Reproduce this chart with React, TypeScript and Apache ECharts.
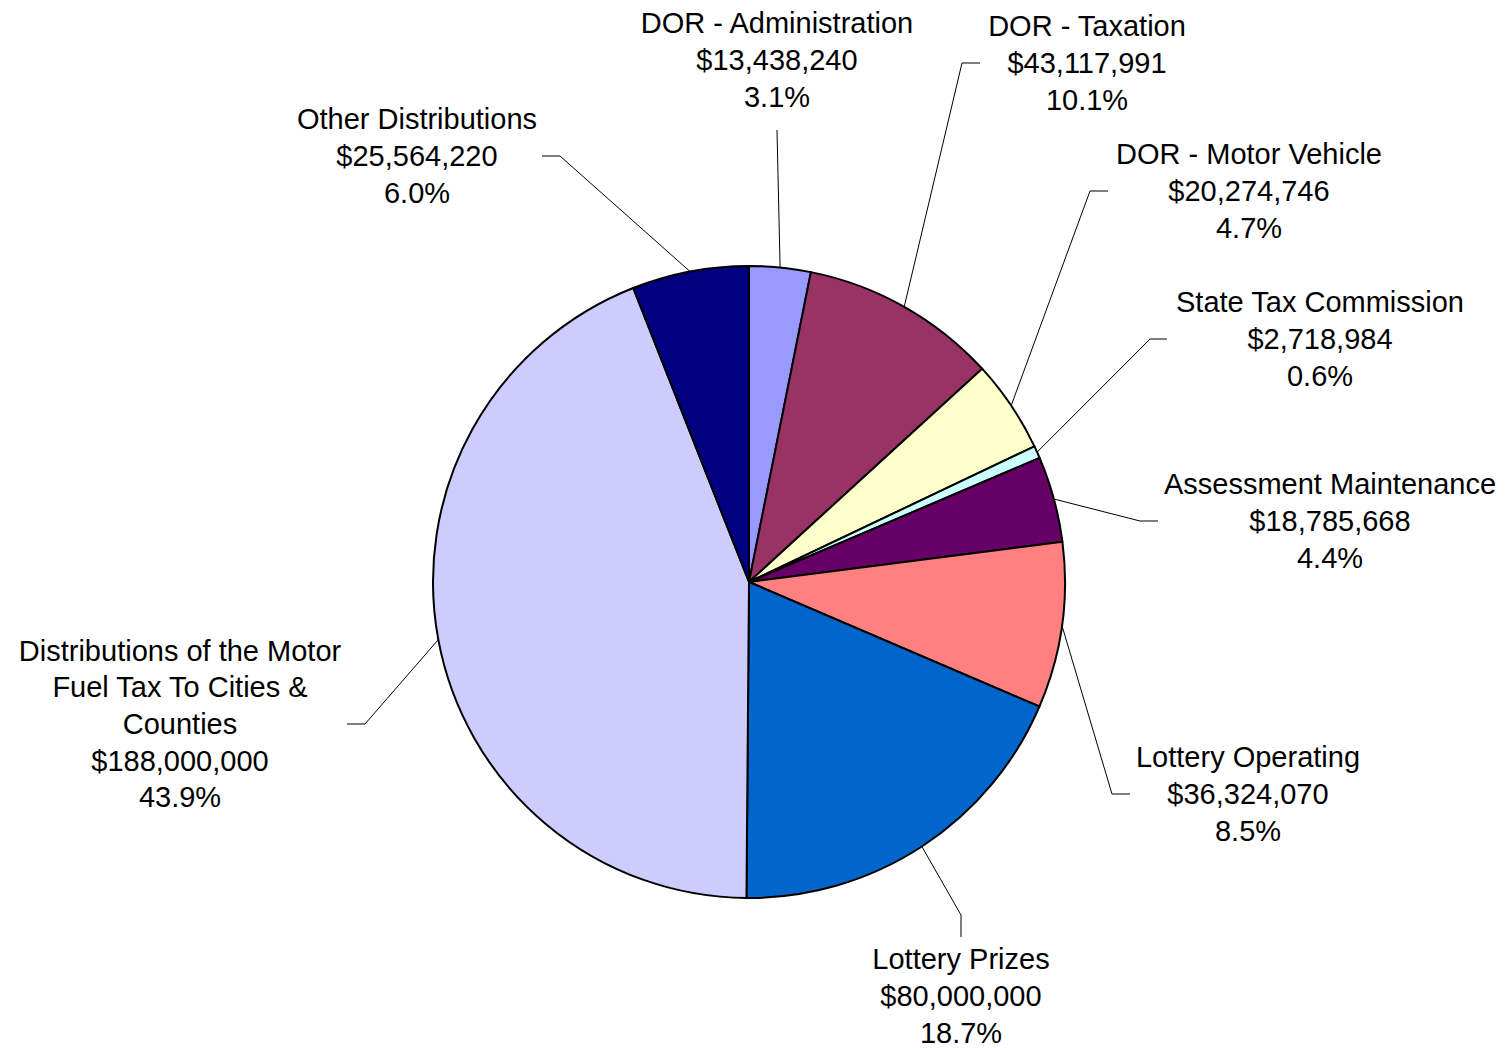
import React, { useEffect, useRef } from "react";
import * as echarts from "echarts";

const categories = [
  "DOR - Administration",
  "DOR - Taxation",
  "DOR - Motor Vehicle",
  "State Tax Commission",
  "Assessment Maintenance",
  "Lottery Operating",
  "Lottery Prizes",
  "Distributions of the Motor\nFuel Tax To Cities &\nCounties",
  "Other Distributions",
];
const values = [13438240, 43117991, 20274746, 2718984, 18785668, 36324070, 80000000, 188000000, 25564220];
const colors = ["#9999FF", "#993366", "#FFFFCC", "#CCFFFF", "#660066", "#FF8080", "#0066CC", "#CCCCFF", "#000080"];

// label layout: [labelCenterX, labelCenterY, elbowX, elbowY, endX, endY]
const labelLayouts = [
  [777, 60, 777, 130, 777, 130],
  [1087, 63, 962, 63, 980, 63],
  [1249, 191, 1090, 191, 1108, 191],
  [1320, 339, 1150, 339, 1167, 339],
  [1330, 521, 1140, 521, 1158, 521],
  [1248, 794, 1112, 794, 1130, 794],
  [961, 996, 961, 915, 961, 937],
  [180, 724, 365, 724, 347, 724],
  [417, 156, 560, 156, 542, 156],
];

const CX = 749;
const CY = 582;
const R = 316;

export default function App() {
  const ref = useRef<HTMLDivElement>(null);
  useEffect(() => {
    if (!ref.current) return;
    const chart = echarts.init(ref.current, null, { renderer: "svg" });
    const total = values.reduce((a, b) => a + b, 0);
    const cum: number[] = [];
    let acc = 0;
    values.forEach((v) => {
      cum.push(acc + v / 2);
      acc += v;
    });
    const fmt = (v: number) => "$" + v.toLocaleString("en-US");
    chart.setOption({
      animation: false,
      backgroundColor: "#ffffff",
      series: [
        {
          type: "pie",
          center: [CX, CY],
          radius: R,
          startAngle: 90,
          clockwise: true,
          avoidLabelOverlap: false,
          data: values.map((v, i) => ({
            value: v,
            name: categories[i],
            itemStyle: { color: colors[i] },
          })),
          itemStyle: { borderColor: "#000000", borderWidth: 2 },
          label: {
            show: true,
            color: "#000000",
            fontFamily: "Liberation Sans, Arial, sans-serif",
            fontSize: 29,
            lineHeight: 36.7,
            align: "center",
            formatter: (p: any) =>
              p.name + "\n" + fmt(p.value) + "\n" + ((p.value / total) * 100).toFixed(1) + "%",
          },
          labelLine: {
            show: true,
            lineStyle: { color: "#000000", width: 1 },
          },
          emphasis: { disabled: true },
          labelLayout: (params: any) => {
            const i = params.dataIndex;
            const L = labelLayouts[i];
            const ang = (cum[i] / total) * Math.PI * 2;
            const ex = CX + R * Math.sin(ang);
            const ey = CY - R * Math.cos(ang);
            return {
              x: L[0],
              y: L[1],
              align: "center",
              verticalAlign: "middle",
              labelLinePoints: [
                [ex, ey],
                [L[2], L[3]],
                [L[4], L[5]],
              ],
            };
          },
        },
      ],
    });
    return () => chart.dispose();
  }, []);
  return (
    <div
      ref={ref}
      style={{ position: "fixed", left: 0, top: 0, width: 1507, height: 1048, background: "#fff" }}
    />
  );
}
